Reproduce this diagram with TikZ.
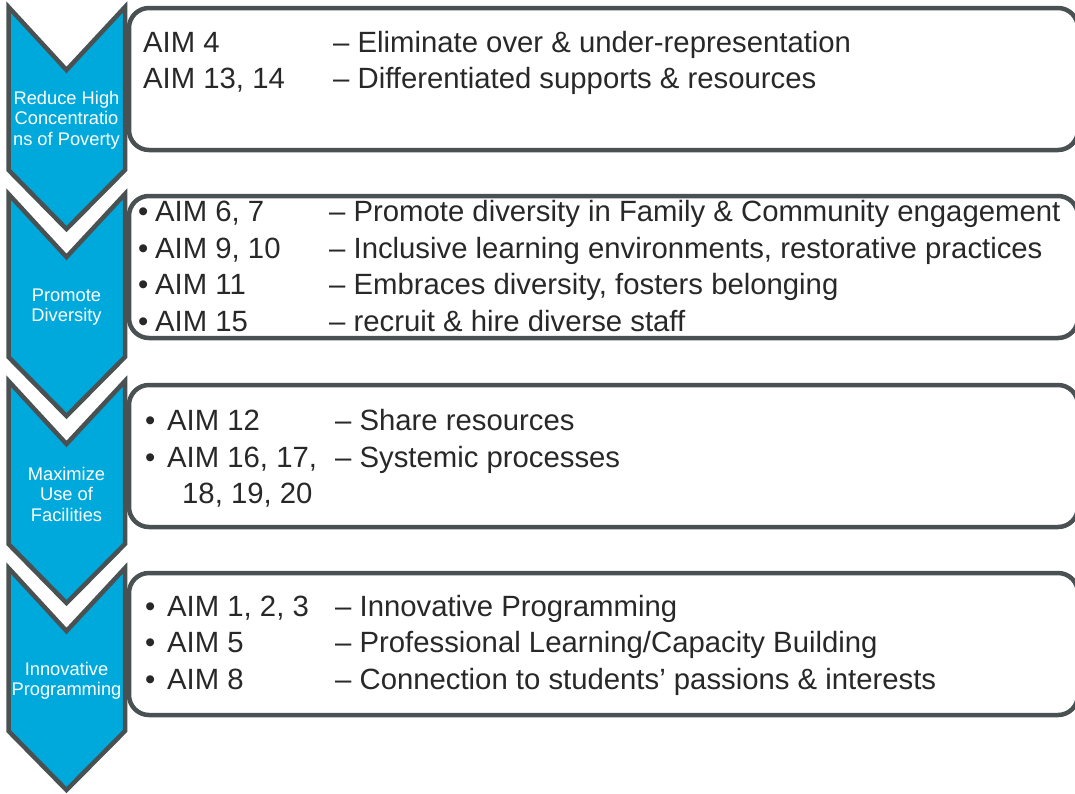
\documentclass[tikz,border=0pt]{standalone}
\usepackage{fontspec}
\setmainfont{Liberation Sans}
\definecolor{chev}{HTML}{00A9DB}
\definecolor{edge}{HTML}{4A5153}
\definecolor{txt}{HTML}{282828}
\begin{document}
\begin{tikzpicture}[x=1pt,y=-1pt,
  boxstyle/.style={draw=edge,line width=4.5pt,fill=white,rounded corners=20pt},
  chevstyle/.style={draw=edge,line width=4.5pt,fill=chev,line join=miter},
  chevlabel/.style={font=\fontsize{18.3}{20.5}\selectfont,text=white,align=center,inner sep=0pt},
  maintext/.style={font=\fontsize{29.3}{34}\selectfont,text=txt,inner sep=0pt,anchor=base west}]
\useasboundingbox (0,0) rectangle (1075,793);
\clip (0,0) rectangle (1075,793);
% boxes
\foreach \t/\b in {8/150,196/338,385/527,573/715}{
  \draw[boxstyle] (129,\t) rectangle (1078,\b);
}
% chevrons
\foreach \t in {7,194,381,568}{
  \draw[chevstyle] (8.5,\t) -- (66.5,\t+63) -- (125,\t) -- (125,\t+163) -- (66.5,\t+222) -- (8.5,\t+163) -- cycle;
}
% chevron labels
\node[chevlabel] (c1) at (66.5,120) {Reduce High\\Concentratio\\ns of Poverty};
\node[chevlabel] (c2) at (66.5,307) {Promote\\Diversity};
\node[chevlabel] (c3) at (66.5,494) {Maximize\\Use of\\Facilities};
\node[chevlabel] (c4) at (66.5,681) {Innovative\\Programming};
% box 1
\node[maintext] (a1) at (143,52.5) {AIM 4};
\node[maintext] (d1) at (333,52.5) {– Eliminate over \& under-representation};
\node[maintext] (a2) at (143,88) {AIM 13, 14};
\node[maintext] (d2) at (333,88) {– Differentiated supports \& resources};
% box 2
\node[maintext] (b21) at (138,221.5) {•};
\node[maintext] (a21) at (155,221.5) {AIM 6, 7};
\node[maintext] (d21) at (329,221.5) {– Promote diversity in Family \& Community engagement};
\node[maintext] (b22) at (138,258) {•};
\node[maintext] (a22) at (155,258) {AIM 9, 10};
\node[maintext] (d22) at (329,258) {– Inclusive learning environments, restorative practices};
\node[maintext] (b23) at (138,294.7) {•};
\node[maintext] (a23) at (155,294.7) {AIM 11};
\node[maintext] (d23) at (329,294.7) {– Embraces diversity, fosters belonging};
\node[maintext] (b24) at (138,331.3) {•};
\node[maintext] (a24) at (155,331.3) {AIM 15};
\node[maintext] (d24) at (329,331.3) {– recruit \& hire diverse staff};
% box 3
\node[maintext] (b31) at (145,430.5) {•};
\node[maintext] (a31) at (167,430.5) {AIM 12};
\node[maintext] (d31) at (335,430.5) {– Share resources};
\node[maintext] (b32) at (145,467) {•};
\node[maintext] (a32) at (167,467) {AIM 16, 17,};
\node[maintext] (d32) at (335,467) {– Systemic processes};
\node[maintext] (a33) at (182,503.5) {18, 19, 20};
% box 4
\node[maintext] (b41) at (145,616) {•};
\node[maintext] (a41) at (167,616) {AIM 1, 2, 3};
\node[maintext] (d41) at (335,616) {– Innovative Programming};
\node[maintext] (b42) at (145,652.7) {•};
\node[maintext] (a42) at (167,652.7) {AIM 5};
\node[maintext] (d42) at (335,652.7) {– Professional Learning/Capacity Building};
\node[maintext] (b43) at (145,689.3) {•};
\node[maintext] (a43) at (167,689.3) {AIM 8};
\node[maintext] (d43) at (335,689.3) {– Connection to students’ passions \& interests};
\end{tikzpicture}
\end{document}
